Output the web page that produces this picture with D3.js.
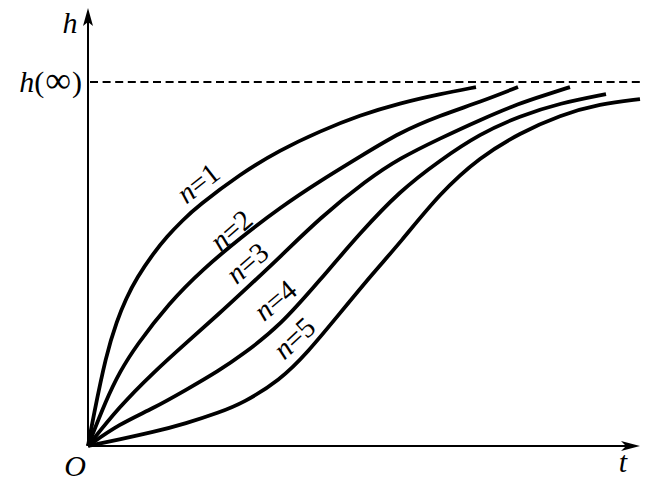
<!DOCTYPE html>
<html>
<head>
<meta charset="utf-8">
<script src="https://cdn.jsdelivr.net/npm/d3@7"></script>
<style>
  html, body { margin: 0; padding: 0; background: #fff; }
  svg { display: block; }
  text { font-family: "Liberation Serif", "DejaVu Serif", serif; fill: #000; }
</style>
</head>
<body>
<svg id="chart" width="660" height="492"></svg>
<script>
// ---- data (t in time units, h as fraction of h(∞)) ----
const seriesNames = ["n=1", "n=2", "n=3", "n=4", "n=5"];
const curveN1 = [[0,0],[0.10,0.075],[0.36,0.250],[0.58,0.345],[0.76,0.405],[0.98,0.463],[1.30,0.528],[1.58,0.576],[1.90,0.621],[2.18,0.657],[3.04,0.747],[3.84,0.813],[4.64,0.865],[5.44,0.909],[6.24,0.942],[7.04,0.967],[7.76,0.986]];
const curveN2 = [[0,0],[0.36,0.126],[0.64,0.205],[0.96,0.275],[1.62,0.393],[2.30,0.486],[3.04,0.571],[3.84,0.655],[4.64,0.728],[5.44,0.795],[6.24,0.862],[7.04,0.908],[7.84,0.945],[8.60,0.986]];
const curveN3 = [[0,0],[0.62,0.107],[1.30,0.201],[1.96,0.283],[2.62,0.363],[3.16,0.432],[3.84,0.519],[4.64,0.627],[5.58,0.731],[6.24,0.791],[7.04,0.845],[7.84,0.896],[8.64,0.942],[9.14,0.964],[9.64,0.986]];
const curveN4 = [[0,0],[0.62,0.060],[1.30,0.103],[1.96,0.154],[2.62,0.207],[3.10,0.252],[3.84,0.330],[4.64,0.456],[5.44,0.585],[6.24,0.701],[7.04,0.785],[7.84,0.858],[8.64,0.907],[9.44,0.942],[10.36,0.967]];
const curveN5 = [[0,0],[0.62,0.018],[1.30,0.038],[1.96,0.062],[2.62,0.092],[3.10,0.118],[3.84,0.181],[4.38,0.255],[5.04,0.365],[5.70,0.475],[6.24,0.558],[7.04,0.695],[7.84,0.794],[8.64,0.860],[9.44,0.909],[10.24,0.940],[11.04,0.953]];
const curves = [curveN1, curveN2, curveN3, curveN4, curveN5];
const yTickValues = [1];          // h(∞)
const axisLabelX = "t";
const axisLabelY = "h";
const originLabel = "O";

// ---- layout ----
const svg = d3.select("#chart");
const x = d3.scaleLinear().domain([0, 11]).range([88, 638]);
const y = d3.scaleLinear().domain([0, 1]).range([446, 82]);
const tEnd = x.invert(640);
const hEnd = y.invert(8);

// label placement (data units) and rotation
const labelPos = [[2.20,0.723,-38],[2.86,0.593,-41],[3.18,0.503,-41],[3.74,0.401,-40],[4.12,0.297,-43]];

// dashed asymptote
svg.append("line")
  .attr("x1", x(0) + 2).attr("x2", x(tEnd))
  .attr("y1", y(1)).attr("y2", y(1))
  .attr("stroke", "#000").attr("stroke-width", 2)
  .attr("stroke-dasharray", "8,4.6");

// axes
svg.append("line")
  .attr("x1", x(0)).attr("x2", x(tEnd) - 8)
  .attr("y1", y(0)).attr("y2", y(0))
  .attr("stroke", "#000").attr("stroke-width", 2);
svg.append("line")
  .attr("x1", x(0)).attr("x2", x(0))
  .attr("y1", y(0)).attr("y2", y(hEnd) + 8)
  .attr("stroke", "#000").attr("stroke-width", 2);

// arrowheads
const xt = x(tEnd), yt = y(0);
svg.append("path")
  .attr("d", `M${xt},${yt} L${xt-19},${yt-5} L${xt-14},${yt} L${xt-19},${yt+5} Z`)
  .attr("fill", "#000");
const yx = x(0), yy = y(hEnd);
svg.append("path")
  .attr("d", `M${yx},${yy} L${yx-5},${yy+18} L${yx},${yy+14} L${yx+5},${yy+18} Z`)
  .attr("fill", "#000");

// y tick label h(∞)
yTickValues.forEach(v => {
  const t = svg.append("text")
    .attr("x", x(0) - 6).attr("y", y(v) + 10)
    .attr("text-anchor", "end")
    .attr("font-size", 30);
  t.append("tspan").attr("font-style", "italic").text("h");
  t.append("tspan").text("(");
  t.append("tspan").attr("font-size", 36).attr("dx", 1).text("∞");
  t.append("tspan").attr("dx", 1).text(")");
});

// axis labels
svg.append("text").attr("x", x(0) - 18).attr("y", 33)
  .attr("text-anchor", "middle").attr("font-size", 30)
  .attr("font-style", "italic").text(axisLabelY);
svg.append("text").attr("x", 623).attr("y", 472)
  .attr("text-anchor", "middle").attr("font-size", 30)
  .attr("font-style", "italic").text(axisLabelX);
svg.append("text").attr("x", 75).attr("y", 476)
  .attr("text-anchor", "middle").attr("font-size", 30)
  .attr("font-style", "italic").text(originLabel);

// curves
const line = d3.line()
  .x(d => x(d[0])).y(d => y(d[1]))
  .curve(d3.curveBasis);
svg.append("g").selectAll("path")
  .data(curves).join("path")
  .attr("d", line)
  .attr("fill", "none")
  .attr("stroke", "#000")
  .attr("stroke-width", 3.8)
  .attr("stroke-linecap", "butt");

// curve labels
seriesNames.forEach((name, i) => {
  const [lt, lh, rot] = labelPos[i];
  const px = x(lt), py = y(lh);
  const t = svg.append("text")
    .attr("transform", `translate(${px},${py}) rotate(${rot})`)
    .attr("text-anchor", "middle")
    .attr("dominant-baseline", "central")
    .attr("font-size", 29);
  t.append("tspan").attr("font-style", "italic").text("n");
  t.append("tspan").text(name.slice(1));
});
</script>
</body>
</html>
